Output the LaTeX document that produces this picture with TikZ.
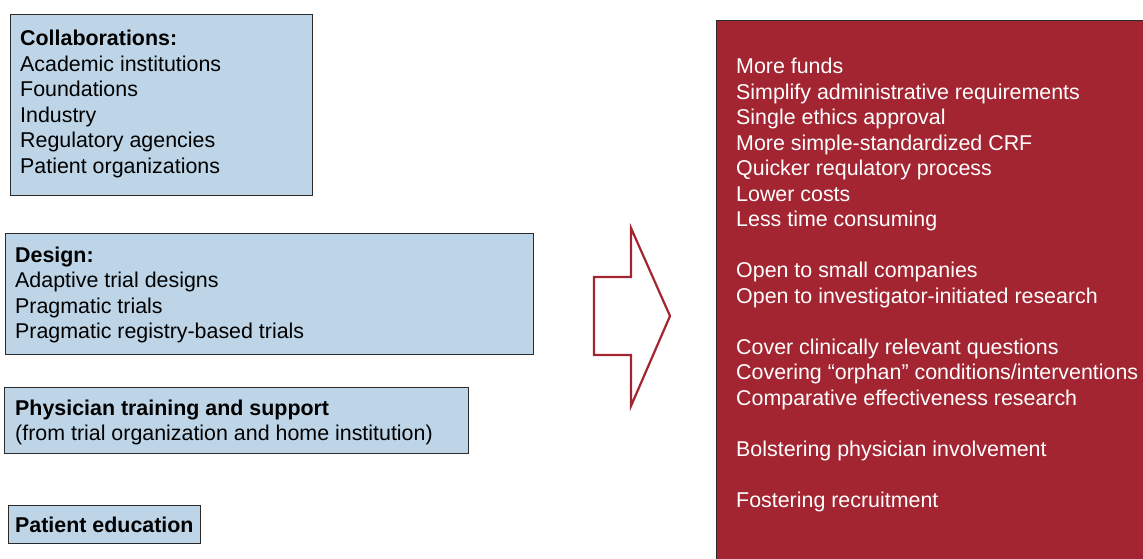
\documentclass[tikz,border=0pt]{standalone}
\usepackage{fontspec}
\setmainfont{Liberation Sans}
\definecolor{boxblue}{HTML}{BDD5E7}
\definecolor{boxred}{HTML}{A32532}
\definecolor{edgegray}{HTML}{2A2A2A}
\begin{document}
\begin{tikzpicture}[x=1pt,y=-1pt,
  bluebox/.style={draw=edgegray,line width=1.2pt,fill=boxblue,rectangle,inner sep=0pt,anchor=north west},
  redbox/.style={draw=edgegray,line width=1.2pt,fill=boxred,rectangle,inner sep=0pt,anchor=north west},
  txt/.style={anchor=north west,inner sep=0pt,align=left,font=\fontsize{21.4}{25.5}\selectfont},
  arrowshape/.style={draw=boxred,line width=2.2pt,fill=white,line join=miter}]
\useasboundingbox (0,0) rectangle (1143,558);
\clip (0,0) rectangle (1143,558);
% left boxes
\node[bluebox,minimum width=302pt,minimum height=181pt] (b1) at (10,14) {};
\node[txt] (t1) at (20,30) {\textbf{Collaborations:}\\Academic institutions\\Foundations\\Industry\\Regulatory agencies\\Patient organizations};
\node[bluebox,minimum width=528pt,minimum height=121pt] (b2) at (5,233) {};
\node[txt] (t2) at (15,246.5) {\textbf{Design:}\\Adaptive trial designs\\Pragmatic trials\\Pragmatic registry-based trials};
\node[bluebox,minimum width=464pt,minimum height=66pt] (b3) at (4,387) {};
\node[txt] (t3) at (15,399.5) {\textbf{Physician training and support}\\(from trial organization and home institution)};
\node[bluebox,minimum width=192pt,minimum height=38pt] (b4) at (8,505) {};
\node[txt] (t4) at (15,516.5) {\textbf{Patient education}};
% right box
\node[redbox,minimum width=440pt,minimum height=560pt] (r) at (716,20) {};
\node[txt,text=white] (rt) at (736,58) {More funds\\Simplify administrative requirements\\Single ethics approval\\More simple-standardized CRF\\Quicker requlatory process\\Lower costs\\Less time consuming\\[25.5pt]Open to small companies\\Open to investigator-initiated research\\[25.5pt]Cover clinically relevant questions\\Covering “orphan” conditions/interventions\\Comparative effectiveness research\\[25.5pt]Bolstering physician involvement\\[25.5pt]Fostering recruitment};
% arrow
\coordinate (a1) at (594,277);
\coordinate (a2) at (631,277);
\coordinate (a3) at (631,228);
\coordinate (a4) at (670,316);
\coordinate (a5) at (631,406);
\coordinate (a6) at (631,355);
\coordinate (a7) at (594,355);
\draw[arrowshape] (a1) -- (a2) -- (a3) -- (a4) -- (a5) -- (a6) -- (a7) -- cycle;
\end{tikzpicture}
\end{document}
